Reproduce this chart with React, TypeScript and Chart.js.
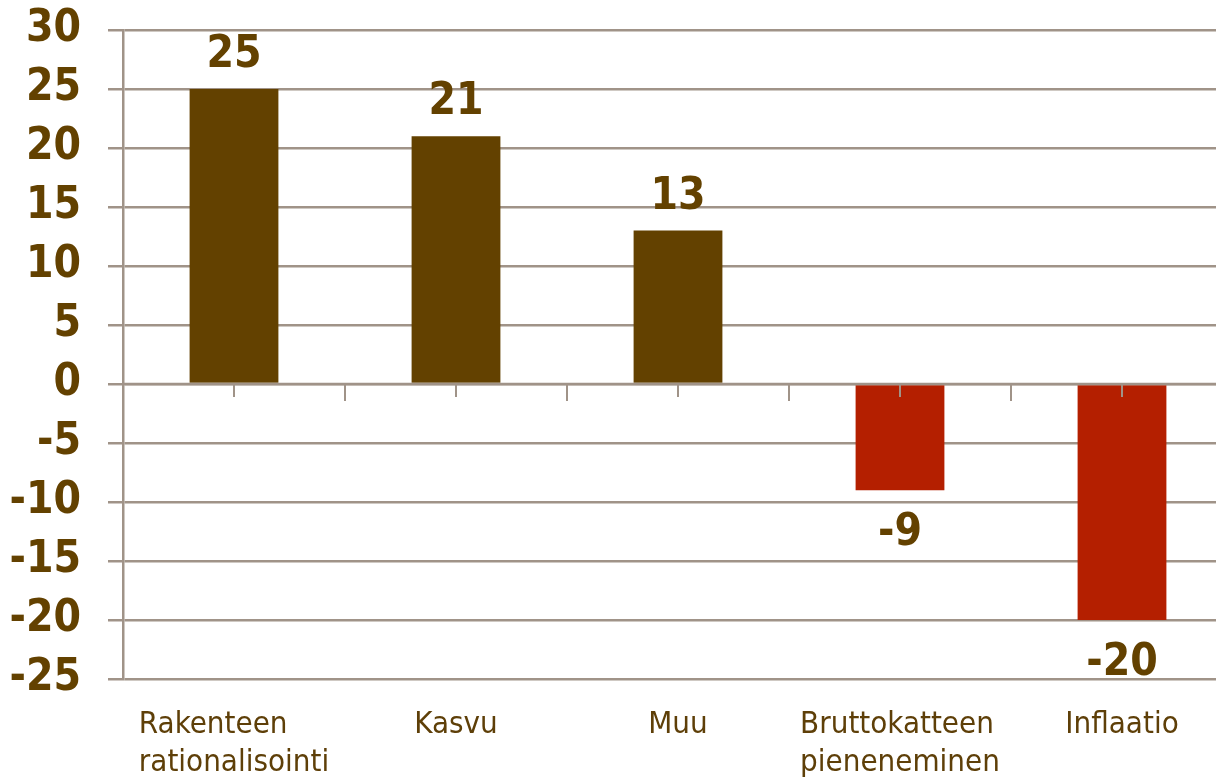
import React, { useEffect, useRef } from 'react';
import { Chart, registerables } from 'chart.js';

Chart.register(...registerables);

const categoryLines: string[][] = [
  ['Rakenteen', 'rationalisointi'],
  ['Kasvu'],
  ['Muu'],
  ['Bruttokatteen', 'pieneneminen'],
  ['Inflaatio'],
];
const categories = categoryLines.map((l) => l.join(' '));
const values = [25, 21, 13, -9, -20];
const yMin = -25;
const yMax = 30;
const yStep = 5;

const POS_COLOR = '#634100';
const NEG_COLOR = '#B41F00';
const TEXT_COLOR = '#634100';
const CAT_COLOR = '#5E3F08';
const GRID_COLOR = '#A09388';
const FONT_FAMILY = '"DejaVu Sans Condensed", "DejaVu Sans", sans-serif';

const decorPlugin = {
  id: 'excelDecor',
  afterDatasetsDraw(chart: any) {
    const ctx = chart.ctx as CanvasRenderingContext2D;
    const xs = chart.scales.x;
    const ys = chart.scales.y;
    const area = chart.chartArea;
    const y0 = ys.getPixelForValue(0);
    ctx.save();
    // zero axis line redrawn over bars
    ctx.strokeStyle = GRID_COLOR;
    ctx.lineWidth = 2.5;
    ctx.beginPath();
    ctx.moveTo(area.left, y0);
    ctx.lineTo(area.right, y0);
    ctx.stroke();
    // tick marks on the zero axis
    ctx.lineWidth = 2;
    const n = categories.length;
    const step = n > 1 ? xs.getPixelForValue(1) - xs.getPixelForValue(0) : 0;
    for (let i = 0; i < n; i++) {
      const cx = xs.getPixelForValue(i);
      ctx.beginPath();
      ctx.moveTo(cx, y0);
      ctx.lineTo(cx, y0 + 13);
      ctx.stroke();
      const bx = cx + step / 2;
      ctx.beginPath();
      ctx.moveTo(bx, y0);
      ctx.lineTo(bx, y0 + 17);
      ctx.stroke();
    }
    // data labels
    const meta = chart.getDatasetMeta(0);
    ctx.font = `bold 44px ${FONT_FAMILY}`;
    ctx.fillStyle = TEXT_COLOR;
    ctx.textAlign = 'center';
    ctx.textBaseline = 'alphabetic';
    meta.data.forEach((el: any, i: number) => {
      const v = values[i];
      const label = String(v);
      if (v >= 0) {
        ctx.fillText(label, el.x, el.y - 22);
      } else {
        ctx.fillText(label, el.x, el.y + 55);
      }
    });
    // category labels
    ctx.font = `31px ${FONT_FAMILY}`;
    ctx.fillStyle = CAT_COLOR;
    ctx.textAlign = 'left';
    categoryLines.forEach((lines, i) => {
      const cx = xs.getPixelForValue(i);
      const w = Math.max(...lines.map((t) => ctx.measureText(t).width));
      const left = cx - w / 2;
      lines.forEach((t, j) => {
        ctx.fillText(t, left, area.bottom + 54 + j * 38);
      });
    });
    ctx.restore();
  },
};

export default function App() {
  const ref = useRef<HTMLCanvasElement | null>(null);
  useEffect(() => {
    if (!ref.current) return;
    const chart = new Chart(ref.current, {
      type: 'bar',
      data: {
        labels: categories,
        datasets: [
          {
            data: values,
            backgroundColor: values.map((v) => (v >= 0 ? POS_COLOR : NEG_COLOR)),
            borderWidth: 0,
            barPercentage: 0.4,
            categoryPercentage: 1,
          },
        ],
      },
      options: {
        responsive: false,
        maintainAspectRatio: false,
        animation: false,
        layout: { padding: { top: 30, right: 7, bottom: 99, left: 0 } },
        plugins: {
          legend: { display: false },
          tooltip: { enabled: false },
          title: { display: false },
        },
        scales: {
          x: {
            display: false,
            offset: true,
            grid: { display: false },
          },
          y: {
            min: yMin,
            max: yMax,
            afterFit: (s: any) => {
              s.width = 123;
              s.paddingTop = 0;
              s.paddingBottom = 0;
            },
            ticks: {
              stepSize: yStep,
              color: TEXT_COLOR,
              padding: 27,
              font: { family: FONT_FAMILY, size: 44, weight: 'bold' },
            },
            grid: {
              color: GRID_COLOR,
              lineWidth: 2.5,
              tickLength: 15,
              drawTicks: true,
            },
            border: { display: true, color: GRID_COLOR, width: 2.5 },
          },
        },
      },
      plugins: [decorPlugin],
    });
    return () => chart.destroy();
  }, []);
  return (
    <div
      style={{
        position: 'fixed',
        left: 0,
        top: 0,
        width: 1216,
        height: 778,
        overflow: 'hidden',
        background: '#ffffff',
      }}
    >
      <canvas ref={ref} width={1240} height={778} style={{ width: 1240, height: 778, display: 'block' }} />
    </div>
  );
}
